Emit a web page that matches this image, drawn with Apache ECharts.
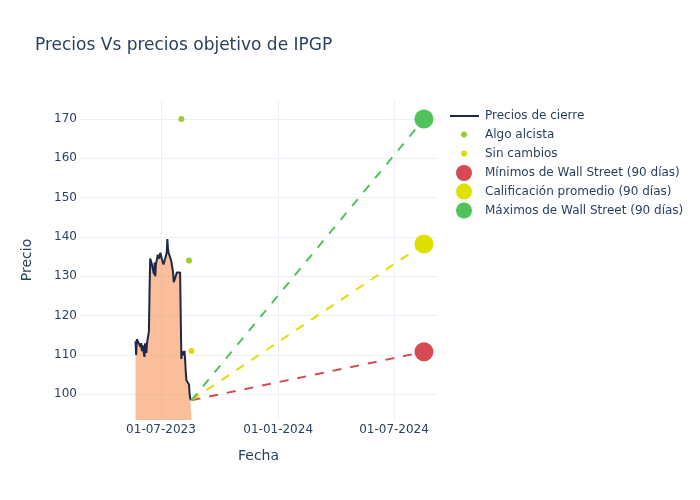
<!DOCTYPE html>
<html><head><meta charset="utf-8">
<script src="https://cdn.jsdelivr.net/npm/echarts@6/dist/echarts.min.js"></script>
<style>html,body{margin:0;padding:0;background:#fff}#c{width:700px;height:500px}</style>
</head><body><div id="c"></div>
<script>
const priceDates = ['2023-05-22','2023-05-23','2023-05-24','2023-05-25','2023-05-26','2023-05-30','2023-05-31',
'2023-06-01','2023-06-02','2023-06-05','2023-06-06','2023-06-07','2023-06-08','2023-06-09','2023-06-12','2023-06-13',
'2023-06-14','2023-06-15','2023-06-16','2023-06-20','2023-06-21','2023-06-22','2023-06-23','2023-06-26','2023-06-27',
'2023-06-28','2023-06-29','2023-06-30','2023-07-03','2023-07-05','2023-07-06','2023-07-07','2023-07-10','2023-07-11',
'2023-07-12','2023-07-13','2023-07-14','2023-07-17','2023-07-18','2023-07-19','2023-07-20','2023-07-21','2023-07-24',
'2023-07-25','2023-07-26','2023-07-27','2023-07-28','2023-07-31','2023-08-01','2023-08-02','2023-08-03','2023-08-04',
'2023-08-07','2023-08-08','2023-08-09','2023-08-10','2023-08-11','2023-08-14','2023-08-15','2023-08-16','2023-08-17','2023-08-18'];
const priceValues = [113.5,110,114,114.3,114.5,112,113,
111,112.5,109.5,113,112,110.5,113,116,126,
134.5,134.3,133.5,130.5,133.5,130,133,135.5,135,
134.5,135,136,134,133,132.5,133.5,136,139.5,
137,136,136.5,134,133,132.5,131,128.5,130,
130.5,131,131.5,131,131,130.5,109,111,110,
111,108.5,105.5,103.5,103,102.5,100,99,98.5,98.5];
const bullishDates = ['2023-08-02','2023-08-14'];
const bullishValues = [170,134];
const neutralDates = ['2023-08-18'];
const neutralValues = [111];
const targetStartDate = '2023-08-18';
const targetStartValue = 98.5;
const targetDate = '2024-08-17';
const targetLow = 110.8;
const targetAvg = 138.2;
const targetHigh = 170;
const yTicks = [100,110,120,130,140,150,160,170];
const xTickDates = ['2023-07-01','2024-01-01','2024-07-01'];

function ts(s){const p=s.split('-').map(Number);return new Date(p[0],p[1]-1,p[2]).getTime();}
function pad(n){return (n<10?'0':'')+n;}
function fmt(v){const d=new Date(v);return pad(d.getDate())+'-'+pad(d.getMonth()+1)+'-'+d.getFullYear();}
function pairs(ds,vs){return ds.map((d,i)=>[ts(d),vs[i]]);}

const FONT='DejaVu Sans', TXT='#2a3f5f';
const cLow='#d64a52', cAvg='#dfdf00', cHigh='#4fc25a', cBull='#9acd32', cNeu='#dcdc00', cLine='#1e2745';
const xTicks = xTickDates.map(ts);

const chart = echarts.init(document.getElementById('c'), null, {renderer:'canvas'});
function leg(name, top, icon, w, h, left, padLeft){
  return {data:[{name:name, icon:icon}], left:left, top:top, orient:'vertical', padding:0, itemWidth:w, itemHeight:h, itemGap:0,
    textStyle:{fontFamily:FONT,fontSize:12,color:TXT,padding:[0,0,0,padLeft]}, selectedMode:false};
}
chart.setOption({
  animation:false,
  title:{text:'Precios Vs precios objetivo de IPGP', left:35, top:37, padding:0,
    textStyle:{fontFamily:FONT,fontSize:17,fontWeight:'normal',color:TXT}},
  legend:[
    leg('Precios de cierre',110,'rect',29,2,450,1),
    leg('Algo alcista',128.5,'circle',6,6,461,13),
    leg('Sin cambios',147.5,'circle',6,6,461,13),
    leg('Mínimos de Wall Street (90 días)',165,'circle',16,16,456,8),
    leg('Calificación promedio (90 días)',183.5,'circle',16,16,456,8),
    leg('Máximos de Wall Street (90 días)',202.5,'circle',16,16,456,8)
  ],
  grid:{left:80,right:263,top:100,bottom:80,containLabel:false},
  xAxis:{type:'value', min:ts('2023-02-24')-5*3600e3, max:ts('2024-09-06')+12*3600e3, scale:true,
    name:'Fecha', nameLocation:'middle', nameGap:29,
    nameTextStyle:{fontFamily:FONT,fontSize:14,color:TXT},
    axisLine:{show:false}, axisTick:{show:false, customValues:xTicks},
    axisLabel:{customValues:xTicks, formatter:fmt, margin:4, fontFamily:FONT,fontSize:12,color:TXT, showMinLabel:true, showMaxLabel:true},
    splitLine:{show:true,lineStyle:{color:'#ebf0f8',width:1}}},
  yAxis:{type:'value', min:93.47, max:174.83,
    name:'Precio', nameLocation:'middle', nameGap:46, nameRotate:90,
    nameTextStyle:{fontFamily:FONT,fontSize:14,color:TXT},
    axisLine:{show:false}, axisTick:{show:false, customValues:yTicks},
    axisLabel:{customValues:yTicks, margin:3, fontFamily:FONT,fontSize:12,color:TXT},
    splitLine:{show:true,lineStyle:{color:'#ebf0f8',width:1}}},
  series:[
    {name:'Precios de cierre', type:'line', data:pairs(priceDates,priceValues), symbol:'none',
      lineStyle:{color:cLine,width:2}, itemStyle:{color:cLine},
      areaStyle:{color:'rgba(247,147,88,0.6)',opacity:1,origin:'start'}, z:2},
    {name:'_low', type:'line', data:[[ts(targetStartDate),targetStartValue],[ts(targetDate),targetLow]], symbol:'none',
      lineStyle:{color:cLow,width:2,type:[9,9]}, z:3},
    {name:'_avg', type:'line', data:[[ts(targetStartDate),targetStartValue],[ts(targetDate),targetAvg]], symbol:'none',
      lineStyle:{color:cAvg,width:2,type:[9,9]}, z:3},
    {name:'_high', type:'line', data:[[ts(targetStartDate),targetStartValue],[ts(targetDate),targetHigh]], symbol:'none',
      lineStyle:{color:cHigh,width:2,type:[9,9]}, z:3},
    {name:'Algo alcista', type:'scatter', data:pairs(bullishDates,bullishValues), symbol:'circle', symbolSize:6,
      itemStyle:{color:cBull,opacity:1}, z:4},
    {name:'Sin cambios', type:'scatter', data:pairs(neutralDates,neutralValues), symbol:'circle', symbolSize:6,
      itemStyle:{color:cNeu,opacity:1}, z:4},
    {name:'Mínimos de Wall Street (90 días)', type:'scatter', data:[[ts(targetDate),targetLow]], symbol:'circle', symbolSize:19,
      itemStyle:{color:cLow,opacity:1}, z:5},
    {name:'Calificación promedio (90 días)', type:'scatter', data:[[ts(targetDate),targetAvg]], symbol:'circle', symbolSize:19,
      itemStyle:{color:cAvg,opacity:1}, z:5},
    {name:'Máximos de Wall Street (90 días)', type:'scatter', data:[[ts(targetDate),targetHigh]], symbol:'circle', symbolSize:19,
      itemStyle:{color:cHigh,opacity:1}, z:5}
  ]
});
</script></body></html>
